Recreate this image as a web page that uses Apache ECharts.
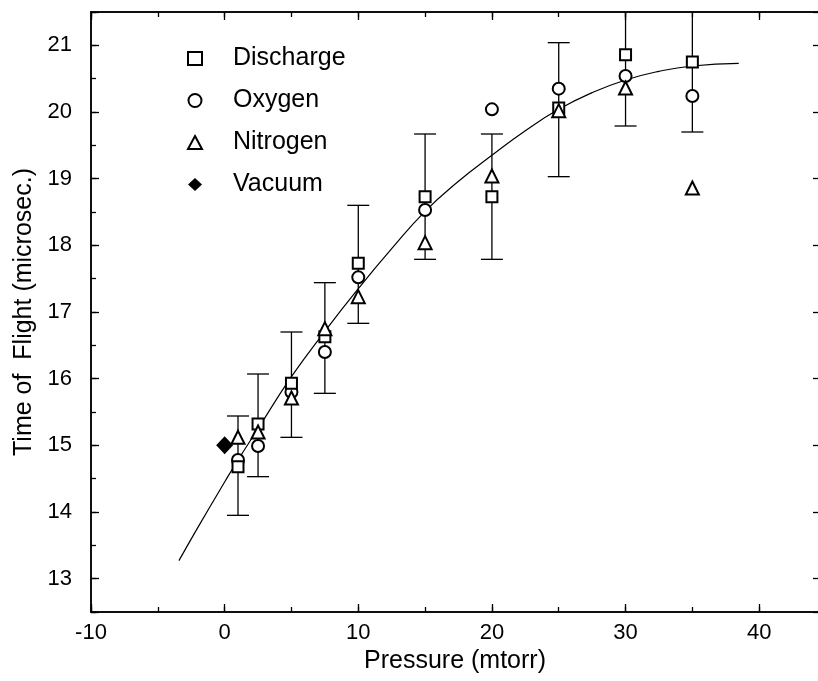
<!DOCTYPE html>
<html>
<head>
<meta charset="utf-8">
<script src="https://cdn.jsdelivr.net/npm/echarts@6/dist/echarts.min.js"></script>
<style>
  html, body { margin: 0; padding: 0; background: #fff; }
  #chart { width: 818px; height: 681px; }
</style>
</head>
<body>
<div id="chart"></div>
<script>
// Pressure settings (mtorr) at which time of flight was measured
const pressure = [1, 2.5, 5, 7.5, 10, 15, 20, 25, 30, 35];
// Time of flight (microsec.) per gas
const discharge = [14.68, 15.32, 15.93, 16.63, 17.73, 18.73, 18.73, 20.06, 20.86, 20.75];
const oxygen    = [14.78, 14.99, 15.80, 16.40, 17.52, 18.53, 20.04, 20.35, 20.54, 20.24];
const nitrogen  = [15.12, 15.20, 15.71, 16.75, 17.23, 18.04, 19.04, 20.02, 20.36, 18.86];
// Vacuum reference point
const vacuumX = [0];
const vacuumY = [15.0];
// Error bar extents at each pressure
const errLow  = [13.95, 14.53, 15.12, 15.78, 16.83, 17.79, 17.79, 19.03, 19.79, 19.70];
const errHigh = [15.44, 16.07, 16.70, 17.44, 18.60, 19.67, 19.67, 21.04, 21.80, 21.80];
// Fitted trend curve
const fitX = [-3.42, -2, 0, 1, 2.5, 5, 7.5, 10, 12.5, 15, 17.5, 20, 22.5, 25, 27.5, 30, 32.5, 35, 38.47];
const fitY = [13.27, 13.77, 14.45, 14.78, 15.25, 16.03, 16.71, 17.35, 17.95, 18.51, 18.96, 19.35, 19.72, 20.04, 20.29, 20.48, 20.61, 20.69, 20.73];

const FONT = '"Liberation Sans", Arial, sans-serif';
const X_MIN = -10, X_MAX = 45;
const Y_MIN = 12.5, Y_MAX = 21.5;

const zip = (a, b) => a.map((v, i) => [v, b[i]]);

function xAx(pos, interval, tickLen, labels) {
  return {
    type: 'value', position: pos, min: X_MIN, max: X_MAX, interval: interval,
    axisLine: { show: true, onZero: false, lineStyle: { color: '#000', width: 1.5 } },
    axisTick: { show: true, inside: true, length: tickLen, lineStyle: { color: '#000', width: 1.3 } },
    axisLabel: labels ? {
      show: true, color: '#000', fontSize: 22, fontFamily: FONT, margin: 10,
      formatter: v => (Math.abs(v % 10) < 1e-6 && v < 45 ? String(v) : '')
    } : { show: false },
    splitLine: { show: false }
  };
}
function yAx(pos, interval, tickLen, labels) {
  const ax = {
    type: 'value', position: pos, min: Y_MIN, max: Y_MAX,
    axisLine: { show: true, onZero: false, lineStyle: { color: '#000', width: 1.5 } },
    axisTick: { show: true, inside: true, length: tickLen, lineStyle: { color: '#000', width: 1.3 } },
    axisLabel: labels ? {
      show: true, color: '#000', fontSize: 22, fontFamily: FONT, margin: 19,
      formatter: v => (Math.abs(v - Math.round(v)) < 1e-6 ? String(Math.round(v)) : '')
    } : { show: false },
    splitLine: { show: false }
  };
  if (interval) ax.interval = interval; else ax.splitNumber = 9;
  return ax;
}

const xAxes = [xAx('bottom', 10, 8, true), xAx('bottom', 5, 5, false), xAx('top', 10, 8, false), xAx('top', 5, 5, false)];
xAxes[0].name = 'Pressure (mtorr)';
xAxes[0].nameLocation = 'middle';
xAxes[0].nameGap = 35;
xAxes[0].nameTextStyle = { color: '#000', fontSize: 25, fontFamily: FONT, padding: [0, 7, 0, 0] };

// the right-hand frame sits just past the canvas edge, so its ticks are longer
const yAxes = [yAx('left', null, 8, true), yAx('left', 0.5, 5, false), yAx('right', null, 13, false), yAx('right', 0.5, 5, false)];
yAxes[0].name = 'Time of  Flight (microsec.)';
yAxes[0].nameLocation = 'middle';
yAxes[0].nameGap = 50;
yAxes[0].nameRotate = 90;
yAxes[0].nameTextStyle = { color: '#000', fontSize: 25, fontFamily: FONT };

const hollow = { color: '#fff', borderColor: '#000', borderWidth: 2, opacity: 1 };

const chart = echarts.init(document.getElementById('chart'), null, { renderer: 'canvas' });
chart.setOption({
  animation: false,
  backgroundColor: '#fff',
  grid: { left: 91, top: 12, width: 735, height: 600, containLabel: false, outerBoundsMode: 'none' },
  xAxis: xAxes,
  yAxis: yAxes,
  legend: {
    orient: 'vertical', left: 182, top: 41,
    itemWidth: 14, itemHeight: 13, itemGap: 17,
    data: ['Discharge', 'Oxygen', 'Nitrogen', 'Vacuum'],
    textStyle: { color: '#000', fontSize: 25, fontFamily: FONT, padding: [0, 0, 0, 26], lineHeight: 25 }
  },
  series: [
    {
      name: 'fit', type: 'line', data: zip(fitX, fitY), smooth: true, showSymbol: false, silent: true,
      lineStyle: { color: '#000', width: 1.2 }, z: 1
    },
    {
      name: 'error', type: 'custom', silent: true, z: 2,
      data: pressure.map((p, i) => [p, errLow[i], errHigh[i]]),
      encode: { x: 0, y: [1, 2] },
      renderItem: function (params, api) {
        const x = api.value(0);
        const lo = api.coord([x, api.value(1)]);
        const hi = api.coord([x, api.value(2)]);
        const cs = params.coordSys;
        const clipped = hi[1] < cs.y;
        const yTop = clipped ? cs.y : hi[1];
        const half = 11;
        const style = { stroke: '#000', lineWidth: 1.3 };
        const children = [
          { type: 'line', shape: { x1: lo[0], y1: lo[1], x2: lo[0], y2: yTop }, style: style },
          { type: 'line', shape: { x1: lo[0] - half, y1: lo[1], x2: lo[0] + half, y2: lo[1] }, style: style }
        ];
        if (!clipped) {
          children.push({ type: 'line', shape: { x1: hi[0] - half, y1: hi[1], x2: hi[0] + half, y2: hi[1] }, style: style });
        }
        return { type: 'group', children: children };
      }
    },
    {
      name: 'Discharge', type: 'scatter', symbol: 'rect', symbolSize: 11,
      data: zip(pressure, discharge), itemStyle: hollow, z: 4
    },
    {
      name: 'Oxygen', type: 'scatter', symbol: 'circle', symbolSize: 12,
      data: zip(pressure, oxygen), itemStyle: hollow, z: 3
    },
    {
      name: 'Nitrogen', type: 'scatter', symbol: 'triangle', symbolSize: 13,
      data: zip(pressure, nitrogen), itemStyle: hollow, z: 5
    },
    {
      name: 'Vacuum', type: 'scatter', symbol: 'diamond', symbolSize: [17, 18],
      data: zip(vacuumX, vacuumY), itemStyle: { color: '#000', opacity: 1 }, z: 5
    }
  ]
});
</script>
</body>
</html>
